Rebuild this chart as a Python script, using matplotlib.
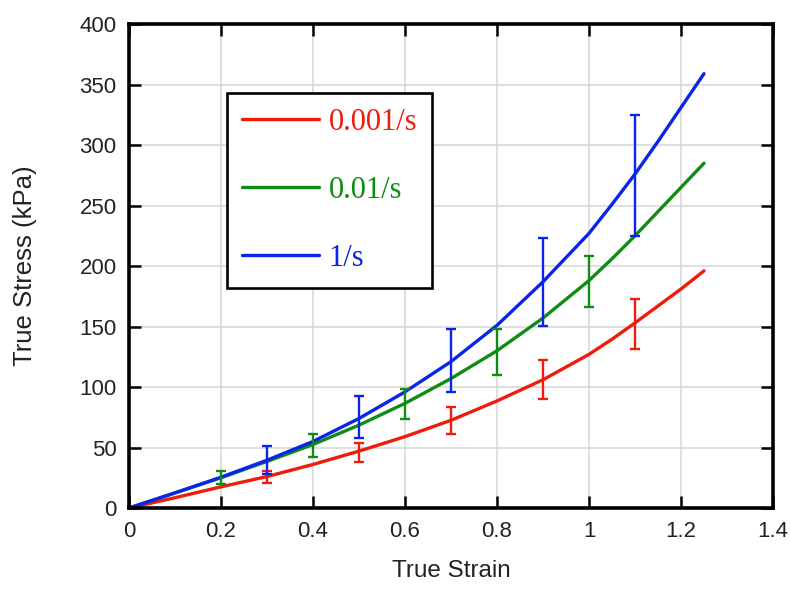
import numpy as np
import matplotlib.pyplot as plt

# krzywe modelu
strain = [0, 0.1, 0.2, 0.3, 0.4, 0.5, 0.6, 0.7, 0.8, 0.9, 1.0, 1.05, 1.1, 1.15, 1.2, 1.25]
stress_slow = [0, 8.5, 17.5, 26, 36, 47, 59, 72.5, 88.5, 106, 127, 139.5, 153, 167, 181, 196]
stress_mid = [0, 12.5, 25, 38.5, 52.5, 68.5, 86.5, 107, 130, 157, 188, 206, 225, 245, 265, 285]
stress_fast = [0, 12.5, 25.5, 39.5, 55, 74, 96, 121, 151, 187, 227, 251, 276, 303, 331, 359]

# punkty pomiarowe z odchyleniem
x_slow = [0.3, 0.5, 0.7, 0.9, 1.1]
y_slow = [26, 46, 72.5, 106.5, 152]
e_slow = [5, 7.7, 11, 16, 20.5]

x_mid = [0.2, 0.4, 0.6, 0.8, 1.0]
y_mid = [25, 52, 86, 129, 187.5]
e_mid = [5.5, 9.5, 12.5, 19, 21]

x_fast = [0.3, 0.5, 0.7, 0.9, 1.1]
y_fast = [40, 75, 122, 187, 275]
e_fast = [11.5, 17.5, 26, 36.5, 50]

labels = ['0.001/s', '0.01/s', '1/s']
colors = ['#ee1c0c', '#0f8c14', '#0b25e8']

fig = plt.figure(figsize=(7.9, 5.89), dpi=100)
ax = fig.add_axes([0.1633, 0.1375, 0.8152, 0.8217])

curves = [stress_slow, stress_mid, stress_fast]
points = [(x_slow, y_slow, e_slow), (x_mid, y_mid, e_mid), (x_fast, y_fast, e_fast)]

for y, (px, py, pe), c, lab in zip(curves, points, colors, labels):
    ax.plot(strain, y, color=c, lw=2.4, label=lab, solid_capstyle='round',
            solid_joinstyle='round', zorder=3)
    ax.errorbar(px, py, yerr=pe, fmt='none', ecolor=c, elinewidth=1.7,
                capsize=3.6, capthick=1.7, zorder=4)

ax.set_xlim(0, 1.4)
ax.set_ylim(0, 400)
ax.set_xticks(np.arange(0, 1.41, 0.2))
ax.set_yticks(np.arange(0, 401, 50))
ax.set_xticklabels(['0', '0.2', '0.4', '0.6', '0.8', '1', '1.2', '1.4'])

ax.grid(True, color='#d6d6d6', lw=1.1)
ax.set_axisbelow(True)
for s in ax.spines.values():
    s.set_linewidth(2.6)
    s.set_zorder(5)

ax.tick_params(direction='in', length=8.5, width=1.8, top=True, right=True,
               labelsize=16, pad=9, labelcolor='#222222')
for t in ax.get_xticklabels() + ax.get_yticklabels():
    t.set_family('Liberation Sans')

ax.set_xlabel('True Strain', fontsize=17.5, family='Liberation Sans', color='#222222')
ax.set_ylabel('True Stress (kPa)', fontsize=18.5, family='Liberation Sans', color='#222222')
ax.xaxis.set_label_coords(0.5, -0.108)
ax.yaxis.set_label_coords(-0.143, 0.5)

leg = ax.legend(loc='upper left', bbox_to_anchor=(0.152, 0.857), borderaxespad=0,
                prop={'family': 'Liberation Serif', 'size': 22},
                handlelength=2.55, handletextpad=0.3, labelspacing=1.28,
                borderpad=0.48, fancybox=False, framealpha=1, edgecolor='black')
leg.get_frame().set_linewidth(1.9)
for txt, c in zip(leg.get_texts(), colors):
    txt.set_color(c)

plt.savefig('out.png', dpi=100)
